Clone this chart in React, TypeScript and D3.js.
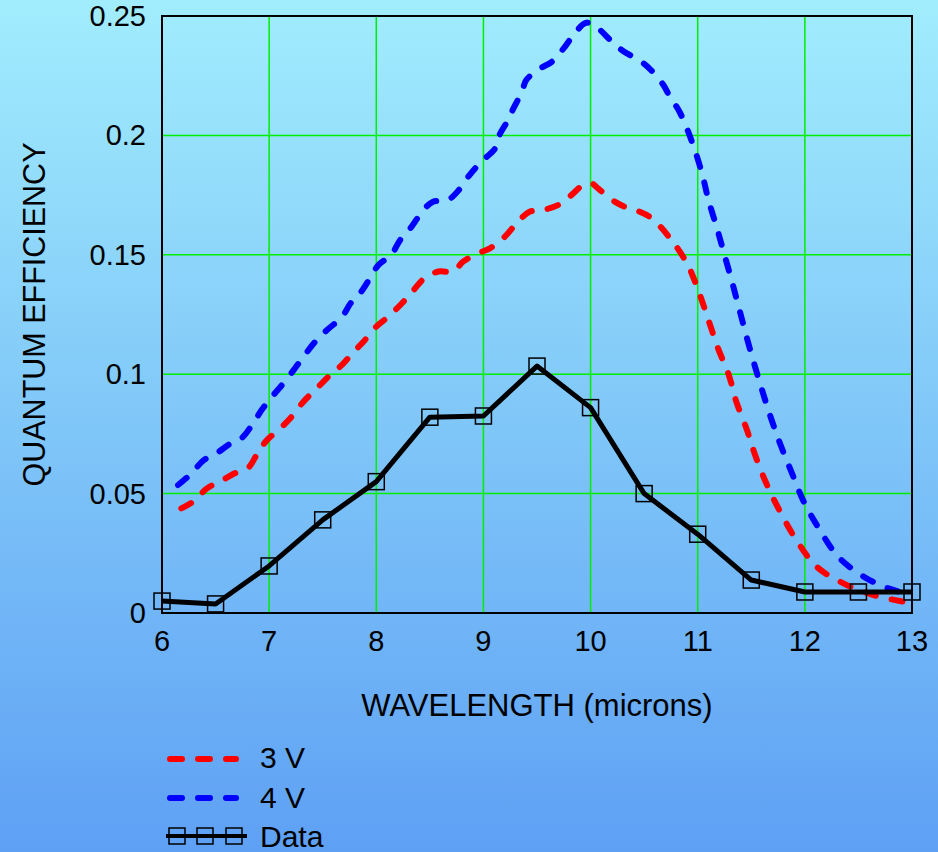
import React from "react";
import * as d3 from "d3";

const xTicks = [6, 7, 8, 9, 10, 11, 12, 13];
const yTicks = [0, 0.05, 0.1, 0.15, 0.2, 0.25];
const yTickLabels = ["0", "0.05", "0.1", "0.15", "0.2", "0.25"];

const dataX = [6, 6.5, 7, 7.5, 8, 8.5, 9, 9.5, 10, 10.5, 11, 11.5, 12, 12.5, 13];
const dataY = [0.005, 0.0038, 0.0197, 0.039, 0.055, 0.082, 0.0825, 0.1034, 0.086, 0.05, 0.033, 0.0138, 0.0088, 0.0088, 0.0088];

const v4X = [6.15, 6.26, 6.39, 6.51, 6.64, 6.74, 6.85, 6.93, 7.04, 7.12, 7.23, 7.32, 7.43, 7.54, 7.68, 7.76, 7.86, 7.94, 8.02, 8.14, 8.22, 8.33, 8.44, 8.53, 8.67, 8.77, 8.87, 8.98, 9.11, 9.15, 9.23, 9.28, 9.36, 9.4, 9.53, 9.64, 9.76, 9.84, 9.96, 10.07, 10.2, 10.31, 10.45, 10.55, 10.68, 10.74, 10.83, 10.94, 11.04, 11.1, 11.18, 11.25, 11.32, 11.39, 11.46, 11.53, 11.61, 11.69, 11.78, 11.88, 11.99, 12.13, 12.31, 12.55, 12.78, 13.0];
const v4Y = [0.0536, 0.0578, 0.064, 0.0669, 0.071, 0.0731, 0.0794, 0.085, 0.0913, 0.0955, 0.1018, 0.1073, 0.1136, 0.1185, 0.124, 0.1297, 0.1346, 0.1401, 0.1457, 0.15, 0.156, 0.1618, 0.1688, 0.1722, 0.173, 0.1771, 0.1834, 0.189, 0.1946, 0.2002, 0.2064, 0.2113, 0.2183, 0.2232, 0.228, 0.2309, 0.2371, 0.242, 0.2472, 0.2448, 0.2392, 0.2351, 0.2316, 0.228, 0.2211, 0.2162, 0.2099, 0.1981, 0.1841, 0.173, 0.1611, 0.1499, 0.1387, 0.1269, 0.115, 0.1039, 0.092, 0.0808, 0.0696, 0.0585, 0.0466, 0.0355, 0.0236, 0.0152, 0.0103, 0.0075];

const v3X = [6.18, 6.29, 6.42, 6.54, 6.68, 6.8, 6.9, 6.98, 7.12, 7.21, 7.32, 7.43, 7.57, 7.68, 7.79, 7.88, 8.0, 8.11, 8.24, 8.35, 8.45, 8.58, 8.72, 8.81, 8.95, 9.06, 9.2, 9.31, 9.43, 9.56, 9.7, 9.82, 9.93, 10.01, 10.07, 10.2, 10.32, 10.46, 10.57, 10.73, 10.9, 11.01, 11.1, 11.19, 11.29, 11.36, 11.46, 11.53, 11.64, 11.77, 11.92, 12.11, 12.36, 12.64, 12.92, 13.0];
const v3Y = [0.0438, 0.0466, 0.0522, 0.055, 0.0585, 0.0606, 0.0675, 0.0724, 0.078, 0.0822, 0.0885, 0.0934, 0.0997, 0.1039, 0.1094, 0.1136, 0.1199, 0.124, 0.1297, 0.1353, 0.1402, 0.143, 0.143, 0.1471, 0.1506, 0.1527, 0.1576, 0.1632, 0.168, 0.1688, 0.1709, 0.175, 0.1792, 0.1799, 0.1778, 0.173, 0.1701, 0.168, 0.1653, 0.1576, 0.1464, 0.1345, 0.1227, 0.1108, 0.0997, 0.0885, 0.0766, 0.0669, 0.0543, 0.0424, 0.0306, 0.0194, 0.0124, 0.0075, 0.0047, 0.004];

const legendLabels = ["3 V", "4 V", "Data"];

const W = 938;
const H = 852;
const FONT = "'Liberation Sans', Arial, sans-serif";

export default function App() {
  const x = d3.scaleLinear().domain([6, 13]).range([162, 912]);
  const y = d3.scaleLinear().domain([0, 0.25]).range([613, 16]);
  const line = d3
    .line<[number, number]>()
    .x((d) => x(d[0]))
    .y((d) => y(d[1]))
    .curve(d3.curveCatmullRom.alpha(0.5));
  const lineLin = d3
    .line<[number, number]>()
    .x((d) => x(d[0]))
    .y((d) => y(d[1]));

  const v3 = v3X.map((v, i) => [v, v3Y[i]] as [number, number]);
  const v4 = v4X.map((v, i) => [v, v4Y[i]] as [number, number]);
  const dat = dataX.map((v, i) => [v, dataY[i]] as [number, number]);

  const sq = 16;

  return (
    <svg
      width={W}
      height={H}
      style={{ position: "absolute", left: 0, top: 0 }}
      fontFamily={FONT}
    >
      <defs>
        <linearGradient id="bg" x1="0" y1="0" x2="0" y2="1">
          <stop offset="0" stopColor="rgb(161,237,253)" />
          <stop offset="1" stopColor="rgb(94,160,244)" />
        </linearGradient>
        <clipPath id="plotclip">
          <rect x={x(6)} y={y(0.25)} width={x(13) - x(6)} height={y(0) - y(0.25)} />
        </clipPath>
      </defs>
      <rect x={0} y={0} width={W} height={H} fill="url(#bg)" />

      {/* grid */}
      {xTicks.slice(1, -1).map((t) => (
        <line key={"gx" + t} x1={x(t)} x2={x(t)} y1={y(0)} y2={y(0.25)} stroke="#00ee00" strokeWidth={1.5} />
      ))}
      {yTicks.slice(1, -1).map((t) => (
        <line key={"gy" + t} x1={x(6)} x2={x(13)} y1={y(t)} y2={y(t)} stroke="#00ee00" strokeWidth={1.5} />
      ))}
      <rect
        x={x(6)}
        y={y(0.25)}
        width={x(13) - x(6)}
        height={y(0) - y(0.25)}
        fill="none"
        stroke="#000"
        strokeWidth={2}
      />

      {/* series */}
      <g clipPath="url(#plotclip)">
        <path d={line(v3) || ""} fill="none" stroke="#ff0000" strokeWidth={6} strokeDasharray="11 16" strokeLinecap="round" />
        <path d={line(v4) || ""} fill="none" stroke="#0000ff" strokeWidth={6} strokeDasharray="11 16" strokeLinecap="round" />
      </g>
      <path d={lineLin(dat) || ""} fill="none" stroke="#000" strokeWidth={5} strokeLinejoin="round" />
      {dat.map((d, i) => (
        <rect
          key={"m" + i}
          x={x(d[0]) - sq / 2}
          y={y(d[1]) - sq / 2}
          width={sq}
          height={sq}
          fill="none"
          stroke="#000"
          strokeWidth={1.5}
        />
      ))}

      {/* tick labels */}
      {xTicks.map((t) => (
        <text key={"xt" + t} x={x(t)} y={651} textAnchor="middle" fontSize={29} fill="#000">
          {t}
        </text>
      ))}
      {yTicks.map((t, i) => (
        <text key={"yt" + t} x={146} y={y(t) + 10} textAnchor="end" fontSize={29} fill="#000">
          {yTickLabels[i]}
        </text>
      ))}

      {/* axis titles */}
      <text x={(x(6) + x(13)) / 2} y={716} textAnchor="middle" fontSize={31} fill="#000">
        WAVELENGTH (microns)
      </text>
      <text
        transform={`translate(45, ${(y(0) + y(0.25)) / 2}) rotate(-90)`}
        textAnchor="middle"
        fontSize={30.5}
        fill="#000"
      >
        QUANTUM EFFICIENCY
      </text>

      {/* legend */}
      <line x1={170} x2={236} y1={759} y2={759} stroke="#ff0000" strokeWidth={6} strokeDasharray="12 16" strokeLinecap="round" />
      <line x1={170} x2={236} y1={798} y2={798} stroke="#0000ff" strokeWidth={6} strokeDasharray="12 16" strokeLinecap="round" />
      <line x1={166} x2={247} y1={836} y2={836} stroke="#000" strokeWidth={4} />
      {[177, 205, 234].map((cx, i) => (
        <rect key={"lm" + i} x={cx - 8} y={836 - 8} width={16} height={16} fill="none" stroke="#000" strokeWidth={1.5} />
      ))}
      {legendLabels.map((l, i) => (
        <text key={"lg" + i} x={260} y={[768, 808, 847][i]} fontSize={30} fill="#000">
          {l}
        </text>
      ))}
    </svg>
  );
}
